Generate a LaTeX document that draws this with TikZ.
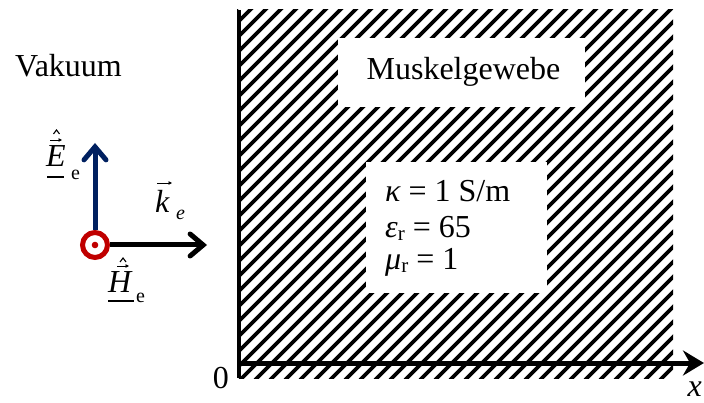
\documentclass[tikz,border=0pt]{standalone}
\usepackage{fontspec}
\setmainfont{Liberation Serif}
\usetikzlibrary{arrows.meta}
\definecolor{eblue}{HTML}{002060}
\definecolor{hred}{HTML}{C00000}
\tikzset{
  big/.style={font=\fontsize{32}{38}\selectfont, inner sep=0pt},
  small/.style={font=\fontsize{20}{22}\selectfont, inner sep=0pt},
  hatchline/.style={line width=3.6pt},
  whitebox/.style={fill=white, draw=none},
  thickarrow/.style={line width=5pt, -{Straight Barb[length=13pt,width=22pt,line cap=round]}},
  vecarrow/.style={line width=0.9pt, -{Triangle[length=3.5pt,width=3.5pt]}},
  hatline/.style={line width=1.1pt},
  uline/.style={line width=1.2pt}
}
\begin{document}
\begin{tikzpicture}[x=1pt,y=-1pt]
\useasboundingbox (0,0) rectangle (704,403);
% hatched tissue region
\begin{scope}
  \clip (237,10) rectangle (673,378);
  \foreach \i in {-26,...,30} {
    \draw[hatchline] (240+15*\i,380) -- ++(380,-380);
  }
\end{scope}
\draw[line width=4pt] (239,10) -- (239,378);
% white label boxes
\fill[whitebox] (338,38) rectangle (585,107);
\fill[whitebox] (366,162) rectangle (547,293);
\node[big, anchor=base] (musk) at (463.5,80) {Muskelgewebe};
\node[big, anchor=base west] (kap) at (385,202) {\itshape κ\upshape\ = 1 S/m};
\node[big, anchor=base west] (eps) at (385,238) {\itshape ε\upshape\raisebox{-0.15ex}{\fontsize{21}{21}\selectfont r} = 65};
\node[big, anchor=base west] (mu) at (385,270) {\itshape μ\upshape\raisebox{-0.15ex}{\fontsize{21}{21}\selectfont r} = 1};
% axis
\coordinate (origin) at (237,363);
\coordinate (xend) at (704,363);
\draw[line width=5pt, -{Stealth[length=21pt,width=25pt,inset=7pt]}] (origin) -- (xend);
\node[big, anchor=base east] (zero) at (229,388) {0};
\node[big, anchor=base east] (xlab) at (702,396) {\itshape x};
% vacuum label
\node[big, anchor=base west] (vak) at (15,77) {Vakuum};
% field vectors
\node[circle, draw=hred, line width=5pt, minimum size=25pt, inner sep=0pt] (hfield) at (95,245) {};
\fill[hred] (hfield.center) circle (3.3pt);
\coordinate (etip) at (95,143);
\coordinate (ktip) at (207,245);
\draw[thickarrow, eblue] (hfield.north) -- (etip);
\draw[thickarrow, black] (hfield.east) -- (ktip);
% E label
\node[big, anchor=base west] (elab) at (46,167) {\itshape E};
\node[small, anchor=base west] (esub) at (71,180) {e};
\draw[uline] (47,177) -- (64,177);
\draw[vecarrow] (50,140) -- (62,140);
\draw[hatline] (53.5,134) -- (56.5,130) -- (59.5,134);
% k label
\node[big, anchor=base west] (klab) at (155,213) {\itshape k};
\node[small, anchor=base west] (ksub) at (176,220) {\itshape e};
\draw[vecarrow] (157,183) -- (172,183);
% H label
\node[big, anchor=base west] (hlab) at (108,293) {\itshape H};
\node[small, anchor=base west] (hsub) at (136,302) {e};
\draw[uline] (108,301) -- (134,301);
\draw[vecarrow] (117,266) -- (129,266);
\draw[hatline] (120,262) -- (123,258) -- (126,262);
\end{tikzpicture}
\end{document}
